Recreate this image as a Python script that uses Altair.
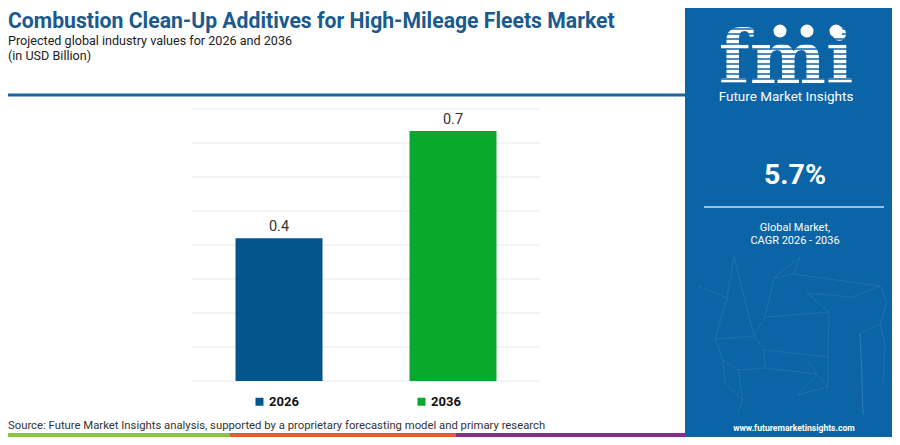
import altair as alt
import pandas as pd

# ---- data ----
years = ["2026", "2036"]
values = [0.4, 0.7]
labels = ["0.4", "0.7"]
bar_colors = ["#03568c", "#08a92c"]

title_text = "Combustion Clean-Up Additives for High-Mileage Fleets Market"
subtitle_lines = ["Projected global industry values for 2026 and 2036", "(in USD Billion)"]
cagr_text = "5.7%"
cagr_caption = ["Global Market,", "CAGR 2026 - 2036"]
source_text = ("Source: Future Market Insights analysis, supported by a proprietary "
               "forecasting model and primary research")
brand_text = "Future Market Insights"
logo_text = "fmi"
url_text = "www.futuremarketinsights.com"

df = pd.DataFrame({"year": years, "value": values, "label": labels})
one = pd.DataFrame({"k": [0]})

# ---- layout helpers (page coords -> plot coords) ----
W, H = 348, 272
OX, OY = 192, 109


def px(x):
    return x - OX


def py(y):
    return y - OY


PANEL = "#0b64a6"
D = 0.7616
grid_df = pd.DataFrame({"g": [D * i / 8 for i in range(9)]})


def text_layer(txt, x, y, size, color, weight="normal", align="left", font="Roboto"):
    return alt.Chart(one).mark_text(
        text=txt, align=align, baseline="alphabetic", fontSize=size,
        fontWeight=weight, color=color, font=font
    ).encode(x=alt.value(px(x)), y=alt.value(py(y)))


def rect_layer(x1, x2, y1, y2, color):
    return alt.Chart(one).mark_rect(color=color).encode(
        x=alt.value(px(x1)), x2=alt.value(px(x2)),
        y=alt.value(py(y1)), y2=alt.value(py(y2)))


def rule_layer(x1, x2, y, color, w):
    return alt.Chart(one).mark_rule(color=color, strokeWidth=w).encode(
        x=alt.value(px(x1)), x2=alt.value(px(x2)), y=alt.value(py(y)))


def seg_layer(p, q):
    return alt.Chart(one).mark_rule(color="#9cc8e8", strokeWidth=0.7, opacity=0.2).encode(
        x=alt.value(px(p[0])), y=alt.value(py(p[1])),
        x2=alt.value(px(q[0])), y2=alt.value(py(q[1])))


# ---- main chart ----
x_enc = alt.X("year:N", sort=years,
              scale=alt.Scale(paddingInner=0.5, paddingOuter=0.25), axis=None)
y_scale = alt.Scale(domain=[0, D], nice=False, zero=True)

grid = alt.Chart(grid_df).mark_rule(color="#efefef", strokeWidth=1.5).encode(
    y=alt.Y("g:Q", scale=y_scale, axis=None),
    x=alt.value(0), x2=alt.value(W))

bars = alt.Chart(df).mark_bar().encode(
    x=x_enc,
    y=alt.Y("value:Q", scale=y_scale, axis=None),
    color=alt.Color("year:N", scale=alt.Scale(domain=years, range=bar_colors),
                    legend=alt.Legend(orient="none", legendX=61, legendY=286,
                                      direction="horizontal", symbolType="square",
                                      symbolSize=64, symbolStrokeWidth=0,
                                      labelFontSize=13, labelFontWeight="bold",
                                      labelFont="Roboto", labelColor="#111111",
                                      columnPadding=116, labelOffset=3,
                                      title=None, padding=0)),
)

value_labels = alt.Chart(df).mark_text(
    dy=-7, baseline="alphabetic", fontSize=14.5, color="#333333", font="Roboto"
).encode(x=x_enc, y=alt.Y("value:Q", scale=y_scale), text="label:N")

layers = []
# right panel
layers.append(rect_layer(685, 900, 8, 445, PANEL))

# faint network decoration in the panel
N = {
    "A": (734, 257), "B": (800, 257), "C": (774, 278), "D": (793, 274),
    "E": (880, 286), "F": (698, 286), "G": (727, 298), "H": (807, 293),
    "I": (852, 297), "J": (887, 301), "K": (765, 317), "L": (829, 312),
    "M": (880, 324), "Nn": (715, 339), "O": (754, 336), "P": (860, 333),
    "Q": (885, 345), "R": (764, 350), "S": (828, 357), "T": (723, 360),
    "U": (738, 370), "V": (765, 368), "Wn": (807, 360), "X": (817, 374),
    "Y": (862, 373), "Z": (725, 383), "AA": (743, 400), "AB": (797, 395),
    "AC": (828, 387), "AD": (883, 382), "AE": (737, 413), "AF": (863, 415),
}
edges = ["A-G", "A-O", "B-C", "B-D", "D-E", "C-K", "H-I", "I-E", "E-J", "F-G",
         "G-Nn", "K-O", "K-L", "L-S", "H-L", "Nn-O", "Nn-T", "O-R", "R-V", "R-S",
         "T-U", "U-V", "V-X", "X-AC", "AC-S", "P-Y", "Y-AF", "P-M", "M-Q", "J-M",
         "T-Z", "Z-AA", "AA-AE", "AB-AC", "Wn-X", "AB-X", "U-AA", "Q-AD", "C-D", "P-AF"]
for e in edges:
    a, b = e.split("-")
    layers.append(seg_layer(N[a], N[b]))

# blue separator line
layers.append(rule_layer(0, 685, 95, "#1a63a3", 3))
# bottom colour strip
layers.append(rect_layer(8, 230, 433, 437, "#8cc63e"))
layers.append(rect_layer(230, 456, 433, 437, "#e95a2b"))
layers.append(rect_layer(456, 685, 433, 437, "#8b2b8b"))

# titles
layers.append(text_layer(title_text, 8, 27.8, 21.2, "#1b5a8e", weight="bold", font="Roboto"))
layers.append(text_layer(subtitle_lines[0], 8, 44.8, 12.6, "#222222"))
layers.append(text_layer(subtitle_lines[1], 8, 60, 12.6, "#222222"))
layers.append(text_layer(source_text, 8, 429, 11.3, "#333333"))

# logo
layers.append(text_layer(logo_text, 786, 83, 72, "white", weight="bold",
                         align="center", font="DejaVu Serif"))
for yy in range(29, 85, 5):
    layers.append(rule_layer(712, 862, yy, PANEL, 1.3))
for gx in (780, 807, 836):
    layers.append(alt.Chart(one).mark_point(filled=True, shape="circle", size=170,
                                            color="white", opacity=1).encode(
        x=alt.value(px(gx)), y=alt.value(py(31))))
layers.append(text_layer(brand_text, 786, 101, 13.5, "white", align="center"))

# CAGR block
layers.append(text_layer(cagr_text, 795, 184, 28.5, "white", weight="bold", align="center"))
layers.append(rule_layer(704, 884, 207, "#cfe0ef", 1.5))
layers.append(text_layer(cagr_caption[0], 795, 231, 11, "white", align="center"))
layers.append(text_layer(cagr_caption[1], 795, 243.5, 11, "white", align="center"))
layers.append(text_layer(url_text, 794, 431, 8.6, "white", weight="bold", align="center"))

layers.append(grid)
layers.append(bars)
layers.append(value_labels)

chart = alt.layer(*layers).properties(
    width=W, height=H,
    padding={"left": 184, "top": 101, "right": 352, "bottom": 56},
    autosize=alt.AutoSizeParams(type="none"),
    background="white",
).configure_view(stroke=None)

chart.save("out.html", embed_options={"renderer": "svg", "actions": False})
